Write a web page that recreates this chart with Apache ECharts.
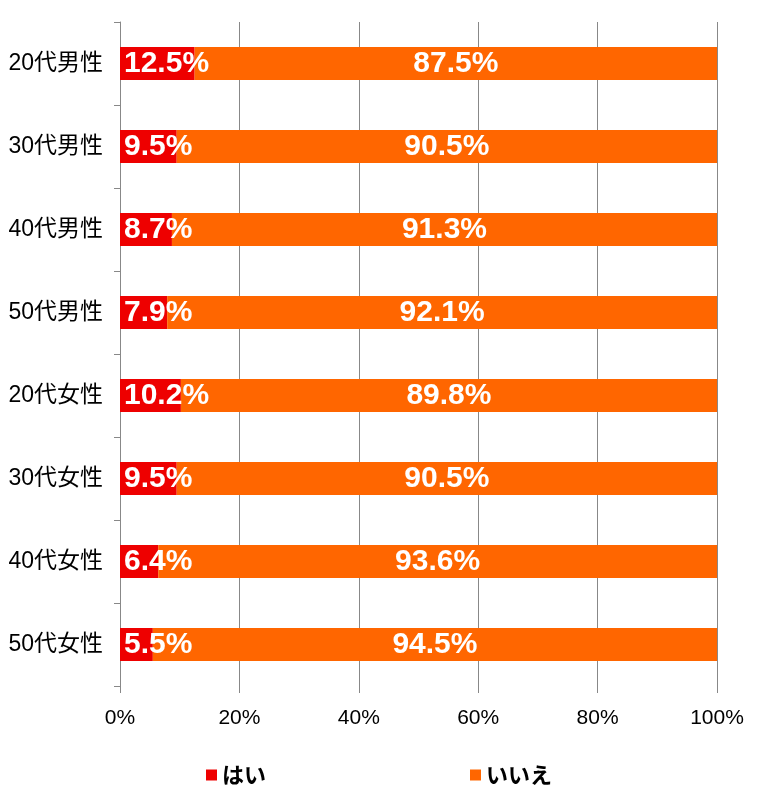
<!DOCTYPE html>
<html><head><meta charset="utf-8">
<script src="https://cdn.jsdelivr.net/npm/echarts@6/dist/echarts.min.js"></script>
<style>html,body{margin:0;padding:0;background:#fff}#c{width:766px;height:802px}</style>
</head><body><div id="c"></div>
<script>
const categories = ['20代男性','30代男性','40代男性','50代男性','20代女性','30代女性','40代女性','50代女性'];
const yesValues = [12.5, 9.5, 8.7, 7.9, 10.2, 9.5, 6.4, 5.5];
const noValues = [87.5, 90.5, 91.3, 92.1, 89.8, 90.5, 93.6, 94.5];
const seriesNames = ['はい', 'いいえ'];
const xTicks = [0, 20, 40, 60, 80, 100];

const labelFont = {color:'#fff', fontFamily:'"Liberation Sans Narrow","Liberation Sans",sans-serif', fontWeight:'bold', fontSize:30};
const jpFont = '"Liberation Sans","Noto Sans CJK JP",sans-serif';
const chart = echarts.init(document.getElementById('c'));
chart.setOption({
  animation:false,
  grid:{left:120, right:49, top:22, bottom:116},
  legend:[
    {data:[seriesNames[0]], left:201, top:759, itemWidth:11, itemHeight:11, icon:'rect', itemGap:4,
     textStyle:{fontSize:22, fontWeight:'bold', color:'#000', fontFamily:'"Noto Sans CJK JP",sans-serif'}},
    {data:[seriesNames[1]], left:465, top:759, itemWidth:11, itemHeight:11, icon:'rect', itemGap:4,
     textStyle:{fontSize:22, fontWeight:'bold', color:'#000', fontFamily:'"Noto Sans CJK JP",sans-serif'}}
  ],
  xAxis:{type:'value', min:xTicks[0], max:xTicks[xTicks.length-1], interval:20,
    axisLine:{show:false},
    axisTick:{show:true, length:7, lineStyle:{color:'#888'}},
    splitLine:{show:true, lineStyle:{color:'#888', width:1}},
    axisLabel:{formatter:v=>v+'%', fontSize:21, color:'#000', margin:22, fontFamily:jpFont}},
  yAxis:{type:'category', data:categories, inverse:true,
    axisLine:{show:true, lineStyle:{color:'#888'}},
    axisTick:{show:true, length:6, lineStyle:{color:'#888'}},
    axisLabel:{fontSize:23, color:'#000', margin:17, fontFamily:jpFont}},
  series:[
    {name:seriesNames[0], type:'bar', stack:'a', data:yesValues, barWidth:33, itemStyle:{color:'#ee0000'},
     label:{show:true, position:'insideLeft', distance:4, formatter:p=>p.value.toFixed(1)+'%', ...labelFont}},
    {name:seriesNames[1], type:'bar', stack:'a', data:noValues, barWidth:33, itemStyle:{color:'#ff6600'},
     label:{show:true, position:'inside', formatter:p=>p.value.toFixed(1)+'%', ...labelFont}}
  ]
});
</script></body></html>
